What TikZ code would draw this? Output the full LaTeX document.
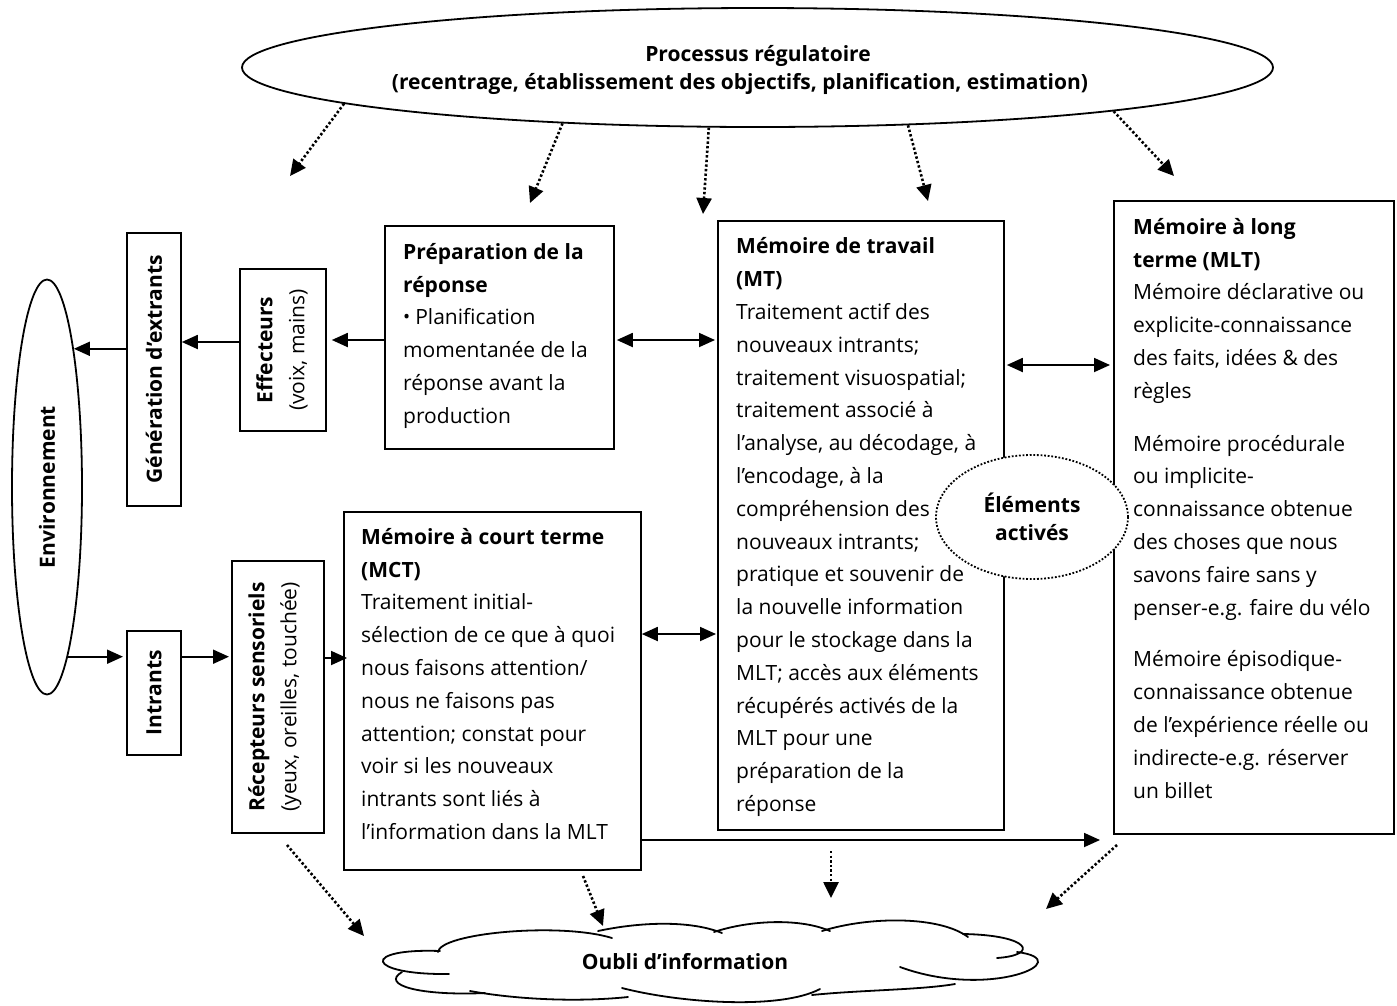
\documentclass[tikz,border=0pt]{standalone}
\usepackage{fontspec}
\setmainfont{Open Sans}
\usetikzlibrary{arrows.meta,shapes.geometric}

\begin{document}
\begin{tikzpicture}[x=1pt,y=-1pt,
  frame/.style={draw, line width=1.8pt, anchor=north west, inner sep=0pt},
  body/.style={anchor=north west, align=left, inner sep=0pt,
    font=\fontsize{21}{32.8}\selectfont},
  vtext/.style={rotate=90, align=center, inner sep=0pt,
    font=\fontsize{21}{32}\selectfont},
  vbold/.style={vtext, font=\fontsize{21}{32}\selectfont\bfseries},
  link/.style={line width=1.8pt, -{Triangle[length=16pt,width=14pt]}},
  twoway/.style={line width=1.8pt, {Triangle[length=16pt,width=14pt]}-{Triangle[length=16pt,width=14pt]}},
  forget/.style={line width=2.6pt, dash pattern=on 2.4pt off 2.2pt,
    -{Triangle[length=16pt,width=15pt]}},
  puff/.style={line width=1.8pt, line cap=round}]

\useasboundingbox (0,0) rectangle (1397,1005);

% regulatory process
\node[ellipse, draw, line width=1.8pt, minimum width=1031pt, minimum height=119pt,
  inner sep=0pt] (reg) at (757.5,67.5) {};
\node[align=center, inner sep=0pt, font=\fontsize{21}{28}\selectfont\bfseries]
  (regtxt) at (740,70) {\hspace*{36pt}Processus régulatoire\\(recentrage, établissement des objectifs, planification, estimation)};

% environment
\node[ellipse, draw, line width=1.8pt, minimum width=70pt, minimum height=415pt,
  inner sep=0pt] (env) at (47,487) {};
\node[vbold] at (env.center) {Environnement};

% boxes
\node[frame, minimum width=54pt, minimum height=273pt] (gen) at (126,232) {};
\node[frame, minimum width=86pt, minimum height=162pt] (eff) at (239,268) {};
\node[frame, minimum width=229pt, minimum height=223pt] (prep) at (384,225) {};
\node[frame, minimum width=286pt, minimum height=609pt] (mt) at (717,220) {};
\node[frame, minimum width=280pt, minimum height=633pt] (mlt) at (1113,200) {};
\node[frame, minimum width=54pt, minimum height=124pt] (intr) at (126,630) {};
\node[frame, minimum width=92pt, minimum height=272pt] (recep) at (231,560) {};
\node[frame, minimum width=297pt, minimum height=358pt] (mct) at (343,511) {};

% rotated labels
\node[vbold] at (gen.center) {Génération d’extrants};
\node[vtext] at ([xshift=-1pt]eff.center) {\textbf{Effecteurs}\\(voix, mains)};
\node[vbold] at (intr.center) {Intrants};
\node[vtext] at ([xshift=-3pt]recep.center) {\textbf{Récepteurs sensoriels}\\(yeux, oreilles, touchée)};

% box texts
\node[body] (preptxt) at (403,243) {\textbf{Préparation de la}\\\textbf{réponse}\\
  \raisebox{1.5pt}{\scalebox{0.9}{•}}\hspace{5pt}Planification\\momentanée de la\\réponse avant la\\production};
\node[body] (mttxt) at (736,237.5) {\textbf{Mémoire de travail}\\\textbf{(MT)}\\
  Traitement actif des\\nouveaux intrants;\\traitement visuospatial;\\traitement associé à\\
  l’analyse, au décodage, à\\l’encodage, à la\\compréhension des\\nouveaux intrants;\\
  pratique et souvenir de\\la nouvelle information\\pour le stockage dans la\\
  MLT; accès aux éléments\\récupérés activés de la\\MLT pour une\\préparation de la\\réponse};
\node[body] (mlttxt) at (1133,218) {\textbf{Mémoire à long}\\\textbf{terme (MLT)}\\
  Mémoire déclarative ou\\explicite-connaissance\\des faits, idées \& des\\règles\\[20pt]
  Mémoire procédurale\\ou implicite-\\connaissance obtenue\\des choses que nous\\
  savons faire sans y\\penser-e.g. faire du vélo\\[19pt]
  Mémoire épisodique-\\connaissance obtenue\\de l’expérience réelle ou\\
  indirecte-e.g. réserver\\un billet};
\node[body] (mcttxt) at (361,528) {\textbf{Mémoire à court terme}\\\textbf{(MCT)}\\
  Traitement initial-\\sélection de ce que à quoi\\nous faisons attention/\\
  nous ne faisons pas\\attention; constat pour\\voir si les nouveaux\\
  intrants sont liés à\\l’information dans la MLT};

% activated elements
\node[ellipse, draw, fill=white, line width=1.8pt, dash pattern=on 1.8pt off 1.8pt,
  minimum width=192pt, minimum height=124pt, inner sep=0pt,
  font=\fontsize{21}{28}\selectfont\bfseries, align=center] (act) at (1032,517)
  {Éléments\\activés};

% forgetting cloud, drawn puff by puff
\draw[puff] (440,951) .. controls (360,948) and (365,975) .. (449,974);
\draw[puff] (402,972) .. controls (380,985) and (420,996) .. (485,993);
\draw[puff] (470,991) .. controls (520,1000) and (580,1002) .. (628,997);
\draw[puff] (622,988) .. controls (680,1003) and (780,1010) .. (820,989);
\draw[puff] (812,995) .. controls (860,990) and (920,990) .. (955,984);
\draw[puff] (900,967) .. controls (990,1000) and (1080,960) .. (1017,952);
\draw[puff] (963,934) .. controls (1030,935) and (1040,955) .. (997,958);
\draw[puff] (822,931) .. controls (870,916) and (940,916) .. (968,937);
\draw[puff] (714,932) .. controls (750,920) and (800,918) .. (830,931);
\draw[puff] (598,931) .. controls (640,922) and (690,920) .. (722,933);
\draw[puff] (438,952) .. controls (440,933) and (560,922) .. (612,938);
\node[font=\fontsize{21}{28}\selectfont\bfseries, inner sep=0pt] (oublitxt) at (685,962)
  {Oubli d’information};

% row helpers for horizontal connectors
\coordinate (rOut) at (0,342);
\coordinate (rPrep) at (0,340);
\coordinate (rMlt) at (0,365);
\coordinate (rMct) at (0,658);
\coordinate (rSt) at (0,634);
\coordinate (mltin) at (1100,840);

% solid connectors
\draw[link] (gen.west |- env.79.5) -- (env.79.5);
\draw[link] (eff.west |- rOut) -- (gen.east |- rOut);
\draw[link] (prep.west |- rPrep) -- ([xshift=5pt]eff.east |- rPrep);
\draw[twoway] ([xshift=2pt]prep.east |- rPrep) -- ([xshift=-2pt]mt.west |- rPrep);
\draw[twoway] ([xshift=2pt]mt.east |- rMlt) -- ([xshift=-3pt]mlt.west |- rMlt);
\draw[link] (env.-83.4) -- ([xshift=-3pt]intr.west |- env.-83.4);
\draw[link] (intr.east |- env.-83.4) -- ([xshift=-2pt]recep.west |- env.-83.4);
\draw[link] (recep.east |- rMct) -- ([xshift=4pt]mct.west |- rMct);
\draw[twoway] (mct.east |- rSt) -- ([xshift=-1pt]mt.west |- rSt);
\draw[link] (mct.east |- mltin) -- (mltin);

% dotted connectors from the regulatory process
\coordinate (d1) at (290,176);
\coordinate (d2) at (530,203);
\coordinate (d3) at (703,214);
\coordinate (d4) at (928,201);
\coordinate (d5) at (1174,176);
\draw[forget] (reg.185.1) -- (d1);
\draw[forget] (reg.196.2) -- (d2);
\draw[forget] (reg.231.9) -- (d3);
\draw[forget] (reg.339.5) -- (d4);
\draw[forget] (reg.353.6) -- (d5);

% dotted connectors towards forgetting
\coordinate (f1a) at (287,845); \coordinate (f1b) at (364,936);
\coordinate (f2a) at (583,876); \coordinate (f2b) at (603,926);
\coordinate (f3a) at (831,851); \coordinate (f3b) at (831,898);
\coordinate (f4a) at (1117,845); \coordinate (f4b) at (1046,909);
\draw[forget] (f1a) -- (f1b);
\draw[forget] (f2a) -- (f2b);
\draw[forget] (f3a) -- (f3b);
\draw[forget] (f4a) -- (f4b);
\end{tikzpicture}
\end{document}
